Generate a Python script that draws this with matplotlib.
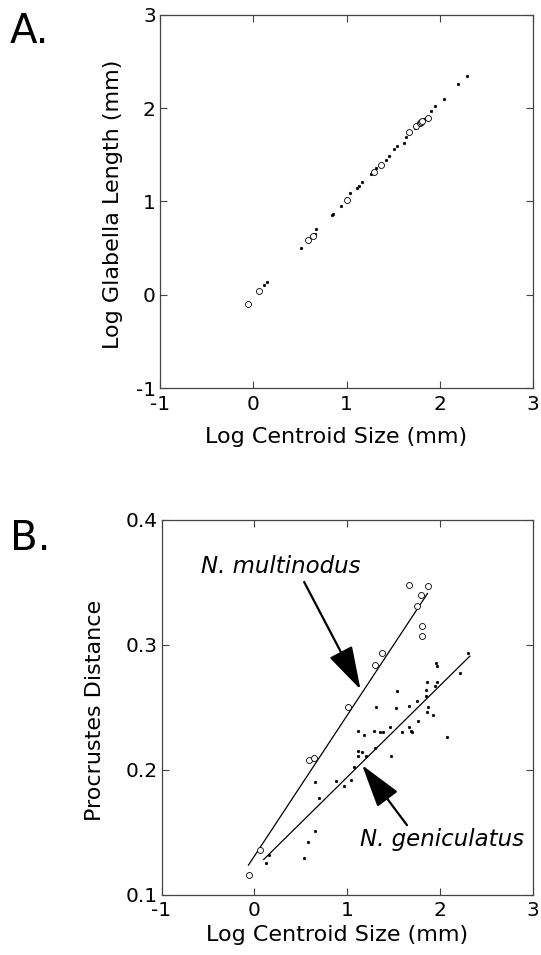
import matplotlib
matplotlib.use("Agg")
import matplotlib.pyplot as plt
import numpy as np

plt.rcParams['font.family'] = ['DejaVu Sans']

# ---- data ----
# N. multinodus (open circles), shared log centroid size
mult_logcs = [-0.06, 0.06, 0.59, 0.64, 1.01, 1.30, 1.37, 1.67, 1.75, 1.79, 1.80, 1.81, 1.87]
mult_glab = [-0.10, 0.04, 0.59, 0.63, 1.02, 1.32, 1.39, 1.74, 1.81, 1.84, 1.85, 1.86, 1.90]
mult_proc = [0.1155, 0.1355, 0.2075, 0.209, 0.250, 0.284, 0.293, 0.348, 0.331, 0.340, 0.315, 0.307, 0.347]

# N. geniculatus (dots), panel A
gen_logcs_A = [0.11, 0.15, 0.51, 0.66, 0.67, 0.84, 0.86, 0.94, 1.04, 1.11, 1.13, 1.17, 1.26, 1.28,
               1.32, 1.42, 1.46, 1.51, 1.54, 1.62, 1.64, 1.73, 1.77, 1.79, 1.83, 1.85, 1.91, 1.95,
               2.05, 2.20, 2.29]
gen_glab_A = [0.10, 0.14, 0.50, 0.65, 0.70, 0.86, 0.87, 0.95, 1.09, 1.15, 1.17, 1.21, 1.30, 1.32,
              1.36, 1.44, 1.49, 1.56, 1.59, 1.63, 1.69, 1.79, 1.83, 1.85, 1.88, 1.90, 1.97, 2.02,
              2.10, 2.26, 2.35]

# N. geniculatus (dots), panel B
gen_logcs_B = [0.13, 0.16, 0.53, 0.58, 0.65, 0.65, 0.70, 0.88, 0.96, 1.04, 1.07, 1.12, 1.12, 1.16,
               1.12, 1.18, 1.20, 1.29, 1.30, 1.31, 1.35, 1.39, 1.46, 1.47, 1.53, 1.54, 1.59, 1.67,
               1.67, 1.69, 1.70, 1.75, 1.76, 1.85, 1.85, 1.86, 1.86, 1.87, 1.92, 1.94, 1.96, 1.97,
               1.97, 2.07, 2.21, 2.30]
gen_proc_B = [0.125, 0.132, 0.129, 0.142, 0.151, 0.190, 0.177, 0.191, 0.187, 0.192, 0.202, 0.211,
              0.215, 0.214, 0.231, 0.228, 0.211, 0.231, 0.217, 0.250, 0.230, 0.230, 0.234, 0.211,
              0.249, 0.263, 0.230, 0.251, 0.234, 0.231, 0.230, 0.255, 0.239, 0.259, 0.264, 0.270,
              0.246, 0.250, 0.244, 0.267, 0.285, 0.283, 0.270, 0.226, 0.277, 0.293]

# regression line end points (panel B)
mult_fit_x = [-0.064, 1.864]
mult_fit_y = [0.1235, 0.3408]
gen_fit_x = [0.10, 2.32]
gen_fit_y = [0.128, 0.2907]

xticks = [-1, 0, 1, 2, 3]
yticks_A = [-1, 0, 1, 2, 3]
yticks_B = [0.1, 0.2, 0.3, 0.4]
yticklabels_B = ['0.1', '0.2', '0.3', '0.4']

# ---- figure ----
W, H = 541, 955
fig = plt.figure(figsize=(W / 100, H / 100), dpi=100)

def px_axes(l, r, t, b):
    return fig.add_axes([l / W, 1 - b / H, (r - l) / W, (b - t) / H])

axA = px_axes(160, 533, 15, 388)
axB = px_axes(161.5, 533, 519.5, 894.5)

frame_col = '#444444'
TICK_FS = 14.5
LAB_FS = 16

def style(ax):
    for s in ax.spines.values():
        s.set_color(frame_col)
        s.set_linewidth(0.9)
    ax.tick_params(direction='in', length=5, width=0.8, color=frame_col,
                   top=True, right=True, labelsize=TICK_FS, pad=3)
    ax.tick_params(axis='x', pad=5)
    ax.set_xlim(-1, 3)
    ax.set_xticks(xticks)
    ax.set_xticklabels([str(t) for t in xticks])

# Panel A
style(axA)
axA.set_ylim(-1, 3)
axA.set_yticks(yticks_A)
axA.set_yticklabels([str(t) for t in yticks_A])
axA.plot(gen_logcs_A, gen_glab_A, 'o', ms=2.0, mfc='black', mec='black', mew=0.3)
axA.plot(mult_logcs, mult_glab, 'o', ms=4.3, mfc='white', mec='black', mew=0.6)
axA.set_xlabel('Log Centroid Size (mm)', fontsize=LAB_FS)
axA.set_ylabel('Log Glabella Length (mm)', fontsize=LAB_FS)
axA.xaxis.set_label_coords(0.472, -0.105)
axA.yaxis.set_label_coords(-0.099, 0.492)

# Panel B
style(axB)
axB.set_ylim(0.1, 0.4)
axB.set_yticks(yticks_B)
axB.set_yticklabels(yticklabels_B)
axB.plot(mult_fit_x, mult_fit_y, '-', color='black', lw=0.9)
axB.plot(gen_fit_x, gen_fit_y, '-', color='black', lw=0.9)
axB.plot(gen_logcs_B, gen_proc_B, 'o', ms=2.0, mfc='black', mec='black', mew=0.3)
axB.plot(mult_logcs, mult_proc, 'o', ms=4.3, mfc='white', mec='black', mew=0.6)
axB.set_xlabel('Log Centroid Size (mm)', fontsize=LAB_FS)
axB.set_ylabel('Procrustes Distance', fontsize=LAB_FS)
axB.xaxis.set_label_coords(0.472, -0.081)
axB.yaxis.set_label_coords(-0.152, 0.49)

arrow_kw = dict(arrowstyle='-|>,head_length=2.7,head_width=0.8', color='black',
                lw=1.6, shrinkA=0, shrinkB=0, mutation_scale=10)
axB.text(-0.57, 0.357, 'N. multinodus', style='italic', fontsize=16.5, ha='left', va='baseline')
axB.annotate('', xy=(1.143, 0.264), xytext=(0.536, 0.350), arrowprops=arrow_kw)
axB.text(1.137, 0.1388, 'N. geniculatus', style='italic', fontsize=16.5, ha='left', va='baseline')
axB.annotate('', xy=(1.16, 0.2035), xytext=(1.643, 0.1555), arrowprops=arrow_kw)

fig.text(10 / W, 1 - 43 / H, 'A.', fontsize=29, ha='left', va='baseline')
fig.text(10 / W, 1 - 550 / H, 'B.', fontsize=29, ha='left', va='baseline')

fig.savefig('out.png', dpi=100)
